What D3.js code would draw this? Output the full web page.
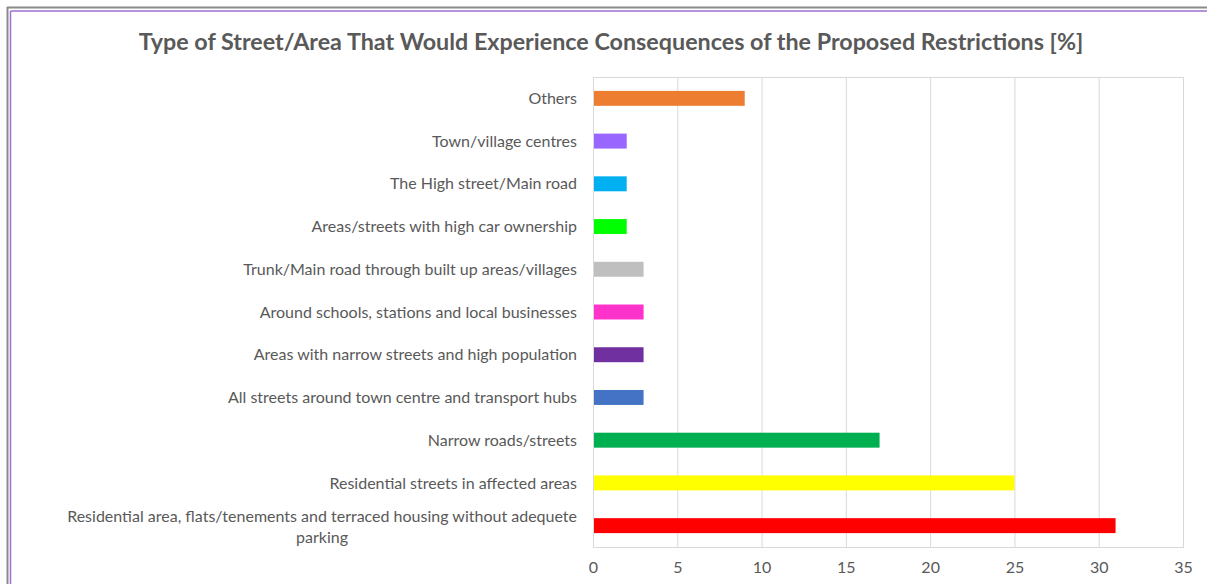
<!DOCTYPE html>
<html>
<head>
<meta charset="utf-8">
<script src="https://cdn.jsdelivr.net/npm/d3@7"></script>
<style>
  html, body { margin: 0; padding: 0; background: #fff; }
  svg { display: block; }
  text { font-family: Lato, "Open Sans", sans-serif; fill: #595959; }
</style>
</head>
<body>
<svg id="chart" width="1207" height="584"></svg>
<script>
// Categories, top to bottom
const categories = [
  "Others",
  "Town/village centres",
  "The High street/Main road",
  "Areas/streets with high car ownership",
  "Trunk/Main road through built up areas/villages",
  "Around schools, stations and local businesses",
  "Areas with narrow streets and high population",
  "All streets around town centre and transport hubs",
  "Narrow roads/streets",
  "Residential streets in affected areas",
  "Residential area, flats/tenements and terraced housing without adequete parking"
];
const values = [9, 2, 2, 2, 3, 3, 3, 3, 17, 25, 31];
const colors = ["#ED7D31", "#9966FF", "#00B0F0", "#00FF00", "#BFBFBF", "#FF33CC",
                "#7030A0", "#4472C4", "#00B050", "#FFFF00", "#FF0000"];
const xTicks = [0, 5, 10, 15, 20, 25, 30, 35];
const title = "Type of Street/Area That Would Experience Consequences of the Proposed Restrictions [%]";

const svg = d3.select("#chart");
const W = 1207, H = 584;
const plot = { left: 593, right: 1183, top: 77, bottom: 547 };
const labelSize = "16px";

// Outer frame: grey outline with a purple inner rule
svg.append("line").attr("x1", 7).attr("x2", W).attr("y1", 7.5).attr("y2", 7.5)
  .attr("stroke", "#8a8a8a").attr("stroke-width", 2);
svg.append("line").attr("x1", 7.5).attr("x2", 7.5).attr("y1", 7).attr("y2", H)
  .attr("stroke", "#8a8a8a").attr("stroke-width", 2);
svg.append("line").attr("x1", 10.5).attr("x2", W).attr("y1", 11).attr("y2", 11)
  .attr("stroke", "#9B72CF").attr("stroke-width", 1.5);
svg.append("line").attr("x1", 10.5).attr("x2", 10.5).attr("y1", 11).attr("y2", H)
  .attr("stroke", "#9B72CF").attr("stroke-width", 1.5);

// Title
svg.append("text")
  .attr("x", 611).attr("y", 50)
  .attr("text-anchor", "middle")
  .style("font-size", "23.3px").style("font-weight", "bold")
  .text(title);

const x = d3.scaleLinear().domain([0, 35]).range([plot.left, plot.right]);
const y = d3.scaleBand().domain(categories).range([plot.top, plot.bottom]).paddingInner(0.65).paddingOuter(0.325);

// Gridlines
svg.append("g")
  .selectAll("line").data(xTicks).join("line")
  .attr("x1", d => x(d) + 0.5).attr("x2", d => x(d) + 0.5)
  .attr("y1", plot.top).attr("y2", plot.bottom)
  .attr("stroke", "#D9D9D9").attr("stroke-width", 1);

// Plot border
svg.append("rect")
  .attr("x", plot.left + 0.5).attr("y", plot.top + 0.5)
  .attr("width", plot.right - plot.left).attr("height", plot.bottom - plot.top)
  .attr("fill", "none").attr("stroke", "#D9D9D9");

// Bars
svg.append("g")
  .selectAll("rect").data(categories).join("rect")
  .attr("x", x(0) + 1)
  .attr("y", d => y(d))
  .attr("width", (d, i) => x(values[i]) - x(0) - 1)
  .attr("height", y.bandwidth())
  .attr("fill", (d, i) => colors[i]);

// X axis labels
const xAxis = d3.axisBottom(x).tickValues(xTicks).tickSize(0).tickPadding(0);
const gx = svg.append("g").attr("transform", `translate(0, ${plot.bottom + 15})`).call(xAxis);
gx.select(".domain").remove();
gx.selectAll("text").style("font-size", labelSize).style("font-family", "Lato, 'Open Sans', sans-serif").attr("fill", "#595959");

// Category labels, wrapped to fit the label column
const labelRight = 577;
const maxLabelWidth = 530;
const labels = svg.append("g");
const measure = s => {
  const p = labels.append("text").style("font-size", labelSize).text(s);
  const w = p.node().getComputedTextLength();
  p.remove();
  return w;
};
categories.forEach((c, i) => {
  const cy = y(c) + y.bandwidth() / 2;
  const t = labels.append("text").style("font-size", labelSize);
  const words = c.split(" ");
  const lines = [];
  let line = [];
  words.forEach(w => {
    if (line.length && measure(line.concat(w).join(" ")) > maxLabelWidth) {
      lines.push(line.join(" "));
      line = [w];
    } else line.push(w);
  });
  lines.push(line.join(" "));
  if (lines.length === 1) {
    t.attr("x", labelRight).attr("y", cy).attr("dy", "0.35em")
      .attr("text-anchor", "end").text(lines[0]);
  } else {
    const cx = labelRight - measure(lines[0]) / 2;
    const lh = 21;
    lines.forEach((l, k) => {
      t.append("tspan").attr("x", cx)
        .attr("y", cy + (k - (lines.length - 1) / 2) * lh + 1)
        .attr("dy", "0.35em").text(l);
    });
    t.attr("text-anchor", "middle");
  }
});
</script>
</body>
</html>
